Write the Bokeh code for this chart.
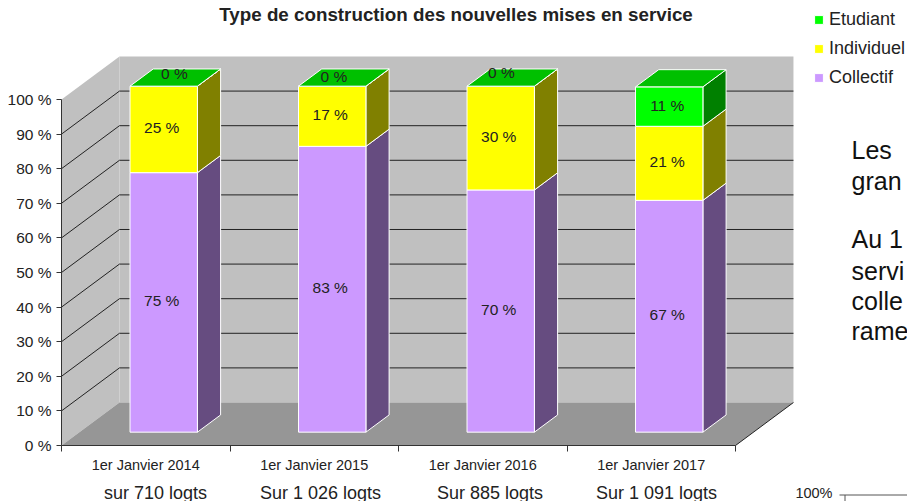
from bokeh.plotting import figure
from bokeh.models import FixedTicker, PrintfTickFormatter, Label, Legend, LegendItem, ColumnDataSource
from bokeh.core.properties import value
from bokeh.embed import file_html
from bokeh.resources import INLINE

# ---------- data ----------
title = "Type de construction des nouvelles mises en service"
categories = ["1er Janvier 2014", "1er Janvier 2015", "1er Janvier 2016", "1er Janvier 2017"]
totals = ["sur 710 logts", "Sur 1 026 logts", "Sur 885 logts", "Sur 1 091 logts"]
collectif = [75, 82.6, 70, 67]
individuel = [25, 17.4, 30, 21.4]
etudiant = [0, 0, 0, 11.4]
y_ticks = [0, 10, 20, 30, 40, 50, 60, 70, 80, 90, 100]
series_names = ["Collectif", "Individuel", "Etudiant"]
front_colors = ["#CC99FF", "#FFFF00", "#00FF00"]
side_colors = ["#664C80", "#808000", "#008000"]
top_color = "#00C000"
side_text = [("Les", 149), ("gran", 180), ("Au  1", 238), ("servi", 270), ("colle", 300), ("rame", 330)]
zero_nudge_x = [-1, -10, -11, 0]
zero_nudge_y = [-4, -1, -5, 0]

FONT = "Liberation Sans"
INK = "#222222"

# ---------- projection ----------
X0, Y0, PX_X, PX_Y = 61, 445, 168.5, 3.46   # page pixels of the axis origin and per-unit scale
DX, DY = 0.344, 12.43                       # shift of the full chart depth, in data units
Z0, Z1 = 0.31, 0.71                         # depth span of the bars
BAR_W = 0.40

def X(px): return (px - X0) / PX_X
def Y(py): return (Y0 - py) / PX_Y
def pr(x, y, z): return x + z * DX, y + z * DY

p = figure(width=907, height=501, output_backend="svg", toolbar_location=None,
           x_range=(X(0), X(907)), y_range=(Y(501), Y(0)),
           min_border_left=0, min_border_right=0, min_border_top=0, min_border_bottom=0)
p.outline_line_color = None
p.grid.visible = False
p.background_fill_color = "white"
p.border_fill_color = "white"

# y axis
p.yaxis.fixed_location = 0
p.yaxis.bounds = (0, 100)
p.yaxis.ticker = FixedTicker(ticks=y_ticks)
p.yaxis.formatter = PrintfTickFormatter(format="%d %%")
p.yaxis.major_label_text_font = FONT
p.yaxis.major_label_text_font_size = "15.5px"
p.yaxis.major_label_text_color = INK
p.yaxis.major_label_standoff = 5
p.yaxis.major_tick_in = 0
p.yaxis.major_tick_out = 5
p.yaxis.minor_tick_line_color = None
p.yaxis.axis_line_color = "#333333"
p.yaxis.major_tick_line_color = "#333333"

# x axis: labels centred between ticks
centers = [i + 0.5 for i in range(len(categories))]
p.xaxis.fixed_location = 0
p.xaxis.bounds = (0, len(categories))
p.xaxis.ticker = FixedTicker(ticks=centers, minor_ticks=list(range(len(categories) + 1)))
p.xaxis.major_label_overrides = {c: n for c, n in zip(centers, categories)}
p.xaxis.major_label_text_font = FONT
p.xaxis.major_label_text_font_size = "14.5px"
p.xaxis.major_label_text_color = INK
p.xaxis.major_label_standoff = 5
p.xaxis.major_tick_in = 0
p.xaxis.major_tick_out = 0
p.xaxis.minor_tick_in = 0
p.xaxis.minor_tick_out = 6
p.xaxis.minor_tick_line_color = "#333333"
p.xaxis.axis_line_color = "#333333"

# ---------- walls and floor ----------
n = len(categories)
def poly(points):
    return [pt[0] for pt in points], [pt[1] for pt in points]

wx, wy = poly([pr(0, 0, 1), pr(n, 0, 1), pr(n, 100, 1), pr(0, 100, 1)])
p.patch(wx, wy, fill_color="#C0C0C0", line_color=None)
wx, wy = poly([pr(0, 0, 0), pr(0, 0, 1), pr(0, 100, 1), pr(0, 100, 0)])
p.patch(wx, wy, fill_color="#C0C0C0", line_color=None)
wx, wy = poly([pr(0, 0, 0), pr(n, 0, 0), pr(n, 0, 1), pr(0, 0, 1)])
p.patch(wx, wy, fill_color="#969696", line_color=None)

for t in y_ticks[1:-1]:
    gx, gy = poly([pr(0, t, 0), pr(0, t, 1), pr(n, t, 1)])
    p.line(gx, gy, line_color="#222222", line_width=1)
gx, gy = poly([pr(n, 0, 0), pr(n, 0, 1)])
p.line(gx, gy, line_color="#222222", line_width=1)

# ---------- bars ----------
stack = [collectif, individuel, etudiant]
legend_renderers = {}
for s, vals in enumerate(stack):
    bases = [sum(stack[k][i] for k in range(s)) for i in range(n)]
    sides_x, sides_y, fl, fr, fb, ft = [], [], [], [], [], []
    for i in range(n):
        y0, y1 = bases[i], bases[i] + vals[i]
        xl, xr = centers[i] - BAR_W / 2, centers[i] + BAR_W / 2
        ax, ay = poly([pr(xr, y0, Z0), pr(xr, y0, Z1), pr(xr, y1, Z1), pr(xr, y1, Z0)])
        sides_x.append(ax); sides_y.append(ay)
        a = pr(xl, y0, Z0); b = pr(xr, y1, Z0)
        fl.append(a[0]); fb.append(a[1]); fr.append(b[0]); ft.append(b[1])
    p.patches(sides_x, sides_y, fill_color=side_colors[s], line_color="white", line_width=1)
    legend_renderers[s] = p.quad(left=fl, right=fr, bottom=fb, top=ft,
                                 fill_color=front_colors[s], line_color="white", line_width=1)

tops_x, tops_y = [], []
for i in range(n):
    xl, xr = centers[i] - BAR_W / 2, centers[i] + BAR_W / 2
    h = collectif[i] + individuel[i] + etudiant[i]
    ax, ay = poly([pr(xl, h, Z0), pr(xr, h, Z0), pr(xr, h, Z1), pr(xl, h, Z1)])
    tops_x.append(ax); tops_y.append(ay)
p.patches(tops_x, tops_y, fill_color=top_color, line_color="white", line_width=1)

# ---------- value labels ----------
lx, ly, lt, ox, oy = [], [], [], [], []
for s, vals in enumerate(stack):
    for i in range(n):
        base = sum(stack[k][i] for k in range(s))
        z = Z0 if vals[i] > 0 else (Z0 + Z1) / 2
        x, y = pr(centers[i], base + vals[i] / 2, z)
        lx.append(x); ly.append(y); lt.append(f"{round(vals[i])} %")
        ox.append(-2 if vals[i] > 0 else zero_nudge_x[i])
        oy.append(-1.5 if vals[i] > 0 else zero_nudge_y[i])
p.text(x="x", y="y", text="t", x_offset="ox", y_offset="oy",
       source=ColumnDataSource(dict(x=lx, y=ly, t=lt, ox=ox, oy=oy)),
       text_font=value(FONT), text_font_size="15.5px", text_color=INK,
       text_align="center", text_baseline="middle")

# ---------- legend ----------
legend = Legend(items=[LegendItem(label=series_names[s], renderers=[legend_renderers[s]]) for s in (2, 1, 0)],
                location=(813, 413), orientation="vertical", padding=0, margin=0,
                spacing=8, label_height=20, glyph_height=11, glyph_width=11, label_standoff=5,
                label_text_font=FONT, label_text_font_size="18px", label_text_color=INK,
                background_fill_alpha=0, border_line_color=None)
p.add_layout(legend)

# ---------- surrounding texts ----------
p.add_layout(Label(x=X(455.5), y=Y(13.5), text=title, text_font=FONT, text_font_size="18.8px",
                   text_font_style="bold", text_color=INK, text_align="center", text_baseline="middle"))
total_x = [155, 320, 489.5, 656]
for tx, t in zip(total_x, totals):
    p.add_layout(Label(x=X(tx), y=Y(492), text=t, text_font=FONT, text_font_size="18px",
                       text_color=INK, text_align="center", text_baseline="middle"))
for t, py in side_text:
    p.add_layout(Label(x=X(851), y=Y(py), text=t, text_font=FONT, text_font_size="25px",
                       text_color="#111111", text_align="left", text_baseline="middle"))
p.add_layout(Label(x=X(832), y=Y(492), text="100%", text_font=FONT, text_font_size="14.5px",
                   text_color=INK, text_align="right", text_baseline="middle"))
p.line([X(839), X(907)], [Y(494.5), Y(494.5)], line_color="#555555", line_width=1)
p.line([X(844.5), X(844.5)], [Y(494.5), Y(501)], line_color="#555555", line_width=1)

open("out.html", "w").write(file_html(p, INLINE))
